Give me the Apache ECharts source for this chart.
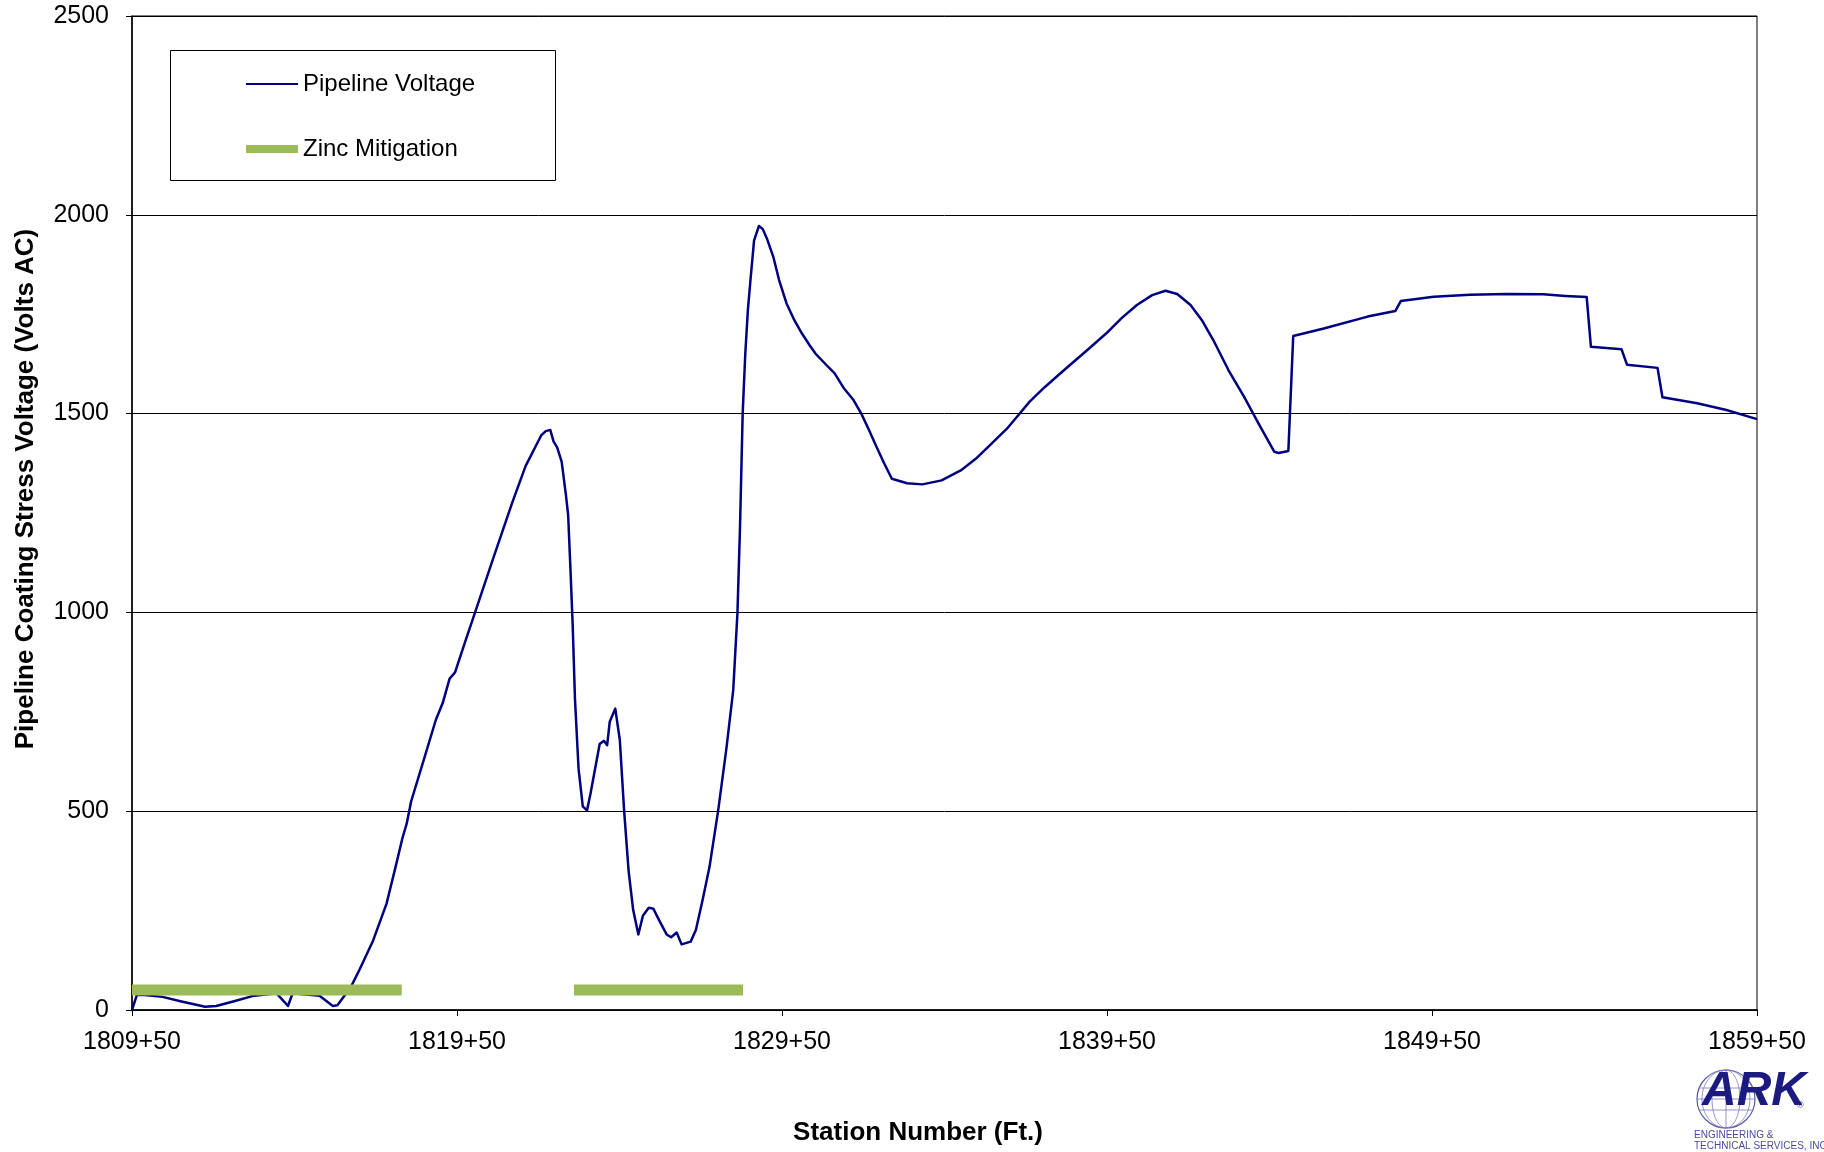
<!DOCTYPE html>
<html>
<head>
<meta charset="utf-8">
<script src="https://cdn.jsdelivr.net/npm/echarts@6/dist/echarts.min.js"></script>
<style>
html,body{margin:0;padding:0;background:#fff;}
#chart{width:1824px;height:1152px;}
</style>
</head>
<body>
<div id="chart"></div>
<script>
// Distance along the pipeline, in feet past station 1809+50
const distFt = [0,15,39,94,149,225,259,314,370,445,480,494,577,618,632,673,701,742,783,811,832,845,859,901,935,956,977,994,1025,1059,1114,1170,1211,1259,1273,1287,1297,1308,1322,1335,1342,1349,1356,1363,1374,1387,1400,1411,1439,1452,1462,1470,1487,1501,1514,1528,1542,1558,1572,1590,1604,1625,1645,1659,1676,1691,1719,1735,1756,1777,1804,1829,1850,1863,1871,1879,1887,1895,1903,1914,1929,1941,1955,1973,1991,2014,2038,2061,2085,2103,2132,2162,2191,2220,2244,2268,2291,2315,2338,2385,2432,2491,2550,2597,2644,2692,2727,2762,2809,2856,2903,2951,2998,3045,3092,3139,3180,3216,3257,3292,3327,3374,3422,3469,3515,3528,3558,3573,3667,3802,3887,3904,4005,4117,4230,4343,4410,4476,4489,4583,4600,4694,4709,4816,4906,5000];
// Pipeline coating stress voltage (Volts AC)
const voltage = [0,38,38,33,22,8,10,22,35,42,10,42,36,10,12,57,103,175,267,360,432,468,525,638,730,772,833,849,926,1008,1142,1276,1368,1445,1456,1459,1430,1415,1379,1296,1245,1111,967,782,607,512,502,545,669,677,666,725,758,679,504,350,252,190,237,257,255,221,190,183,195,165,172,201,278,360,504,658,805,1000,1220,1500,1650,1760,1836,1935,1972,1964,1937,1895,1836,1777,1735,1702,1672,1651,1626,1601,1563,1534,1500,1458,1416,1374,1336,1325,1322,1332,1357,1387,1424,1462,1496,1530,1567,1601,1634,1668,1702,1740,1773,1798,1809,1801,1773,1735,1685,1609,1542,1471,1404,1401,1406,1695,1714,1744,1758,1783,1794,1799,1801,1800,1796,1793,1668,1662,1623,1615,1541,1526,1509,1486];
// Zinc mitigation runs (feet past station 1809+50) and plotted level
const zincStartFt = [0, 1360];
const zincEndFt = [830, 1880];
const zincLevel = 50;
// Axis tick labels
const stationLabels = ['1809+50','1819+50','1829+50','1839+50','1849+50','1859+50'];
const voltTicks = [0, 500, 1000, 1500, 2000, 2500];

const FONT = '"Liberation Sans", Arial, sans-serif';
const chart = echarts.init(document.getElementById('chart'), null, {renderer: 'canvas'});

const zincSeries = zincStartFt.map((s, i) => ({
  name: 'Zinc Mitigation',
  type: 'line',
  data: [[s, zincLevel], [zincEndFt[i], zincLevel]],
  showSymbol: false,
  symbol: 'none',
  lineStyle: {color: '#9BBB59', width: 11, cap: 'butt'},
  itemStyle: {color: '#9BBB59'},
  z: 3,
  animation: false
}));

const option = {
  animation: false,
  backgroundColor: '#fff',
  grid: {left: 132, right: 67, top: 16, bottom: 142, show: true, borderColor: '#000', borderWidth: 1, backgroundColor: 'transparent'},
  xAxis: {
    type: 'value', min: 0, max: 5000, interval: 1000,
    axisLine: {show: true, lineStyle: {color: '#000', width: 1.5}},
    axisTick: {show: true, inside: false, length: 6, lineStyle: {color: '#000'}},
    axisLabel: {color: '#000', fontSize: 25, fontFamily: FONT, margin: 20,
      formatter: v => stationLabels[Math.round(v / 1000)]},
    splitLine: {show: false}
  },
  yAxis: {
    type: 'value', min: voltTicks[0], max: voltTicks[voltTicks.length - 1], interval: 500,
    axisLine: {show: true, lineStyle: {color: '#000', width: 1.5}},
    axisTick: {show: true, inside: false, length: 6, lineStyle: {color: '#000'}},
    axisLabel: {color: '#000', fontSize: 25, fontFamily: FONT, margin: 23,
      formatter: v => String(v)},
    splitLine: {show: true, lineStyle: {color: '#000', width: 1}}
  },
  legend: [
    {data: ['Pipeline Voltage'], left: 246, top: 72, padding: 0, icon: 'rect', itemWidth: 52, itemHeight: 2,
     textStyle: {fontSize: 24, fontFamily: FONT, color: '#000'}, selectedMode: false, z: 10},
    {data: ['Zinc Mitigation'], left: 246, top: 137, padding: 0, icon: 'rect', itemWidth: 52, itemHeight: 8,
     textStyle: {fontSize: 24, fontFamily: FONT, color: '#000'}, selectedMode: false, z: 10}
  ],
  graphic: [
    {type: 'rect', z: 5, shape: {x: 170.5, y: 50.5, width: 385, height: 130},
     style: {fill: '#fff', stroke: '#000', lineWidth: 1}},
    {type: 'text', x: 26, y: 489, rotation: Math.PI / 2,
     style: {text: 'Pipeline Coating Stress Voltage (Volts AC)', font: 'bold 26px ' + FONT, fill: '#000',
       textAlign: 'center', textVerticalAlign: 'middle'}},
    {type: 'text', x: 918, y: 1133,
     style: {text: 'Station Number (Ft.)', font: 'bold 26px ' + FONT, fill: '#000',
       textAlign: 'center', textVerticalAlign: 'middle'}},
    // ARK logo
    {type: 'group', children: [
      {type: 'circle', shape: {cx: 1726, cy: 1099, r: 29}, style: {fill: 'none', stroke: '#5a5aa8', lineWidth: 1.2}},
      {type: 'ellipse', shape: {cx: 1726, cy: 1099, rx: 14, ry: 29}, style: {fill: 'none', stroke: '#7a7ac0', lineWidth: 0.8}},
      {type: 'ellipse', shape: {cx: 1726, cy: 1099, rx: 24, ry: 29}, style: {fill: 'none', stroke: '#7a7ac0', lineWidth: 0.8}},
      {type: 'line', shape: {x1: 1726, y1: 1070, x2: 1726, y2: 1128}, style: {stroke: '#7a7ac0', lineWidth: 0.8}},
      {type: 'line', shape: {x1: 1699, y1: 1088, x2: 1753, y2: 1088}, style: {stroke: '#7a7ac0', lineWidth: 0.8}},
      {type: 'line', shape: {x1: 1697, y1: 1099, x2: 1755, y2: 1099}, style: {stroke: '#7a7ac0', lineWidth: 0.8}},
      {type: 'line', shape: {x1: 1699, y1: 1110, x2: 1753, y2: 1110}, style: {stroke: '#7a7ac0', lineWidth: 0.8}},
      {type: 'text', x: 1702, y: 1116,
       style: {text: 'ARK', font: 'italic bold 48px ' + FONT, fill: '#1a1a80', textAlign: 'left', textVerticalAlign: 'bottom'}},
      {type: 'text', x: 1797, y: 1106,
       style: {text: '®', font: '9px ' + FONT, fill: '#1a1a80', textAlign: 'left', textVerticalAlign: 'middle'}},
      {type: 'text', x: 1694, y: 1135,
       style: {text: 'ENGINEERING &', font: '10px ' + FONT, fill: '#4a4aa0', textAlign: 'left', textVerticalAlign: 'middle'}},
      {type: 'text', x: 1694, y: 1146,
       style: {text: 'TECHNICAL SERVICES, INC.', font: '10px ' + FONT, fill: '#4a4aa0', textAlign: 'left', textVerticalAlign: 'middle'}}
    ]}
  ],
  series: [
    {
      name: 'Pipeline Voltage',
      type: 'line',
      data: distFt.map((d, i) => [d, voltage[i]]),
      showSymbol: false,
      symbol: 'none',
      lineStyle: {color: '#000080', width: 2.5, join: 'round'},
      itemStyle: {color: '#000080'},
      z: 2,
      animation: false
    },
    ...zincSeries
  ]
};
chart.setOption(option);
</script>
</body>
</html>
